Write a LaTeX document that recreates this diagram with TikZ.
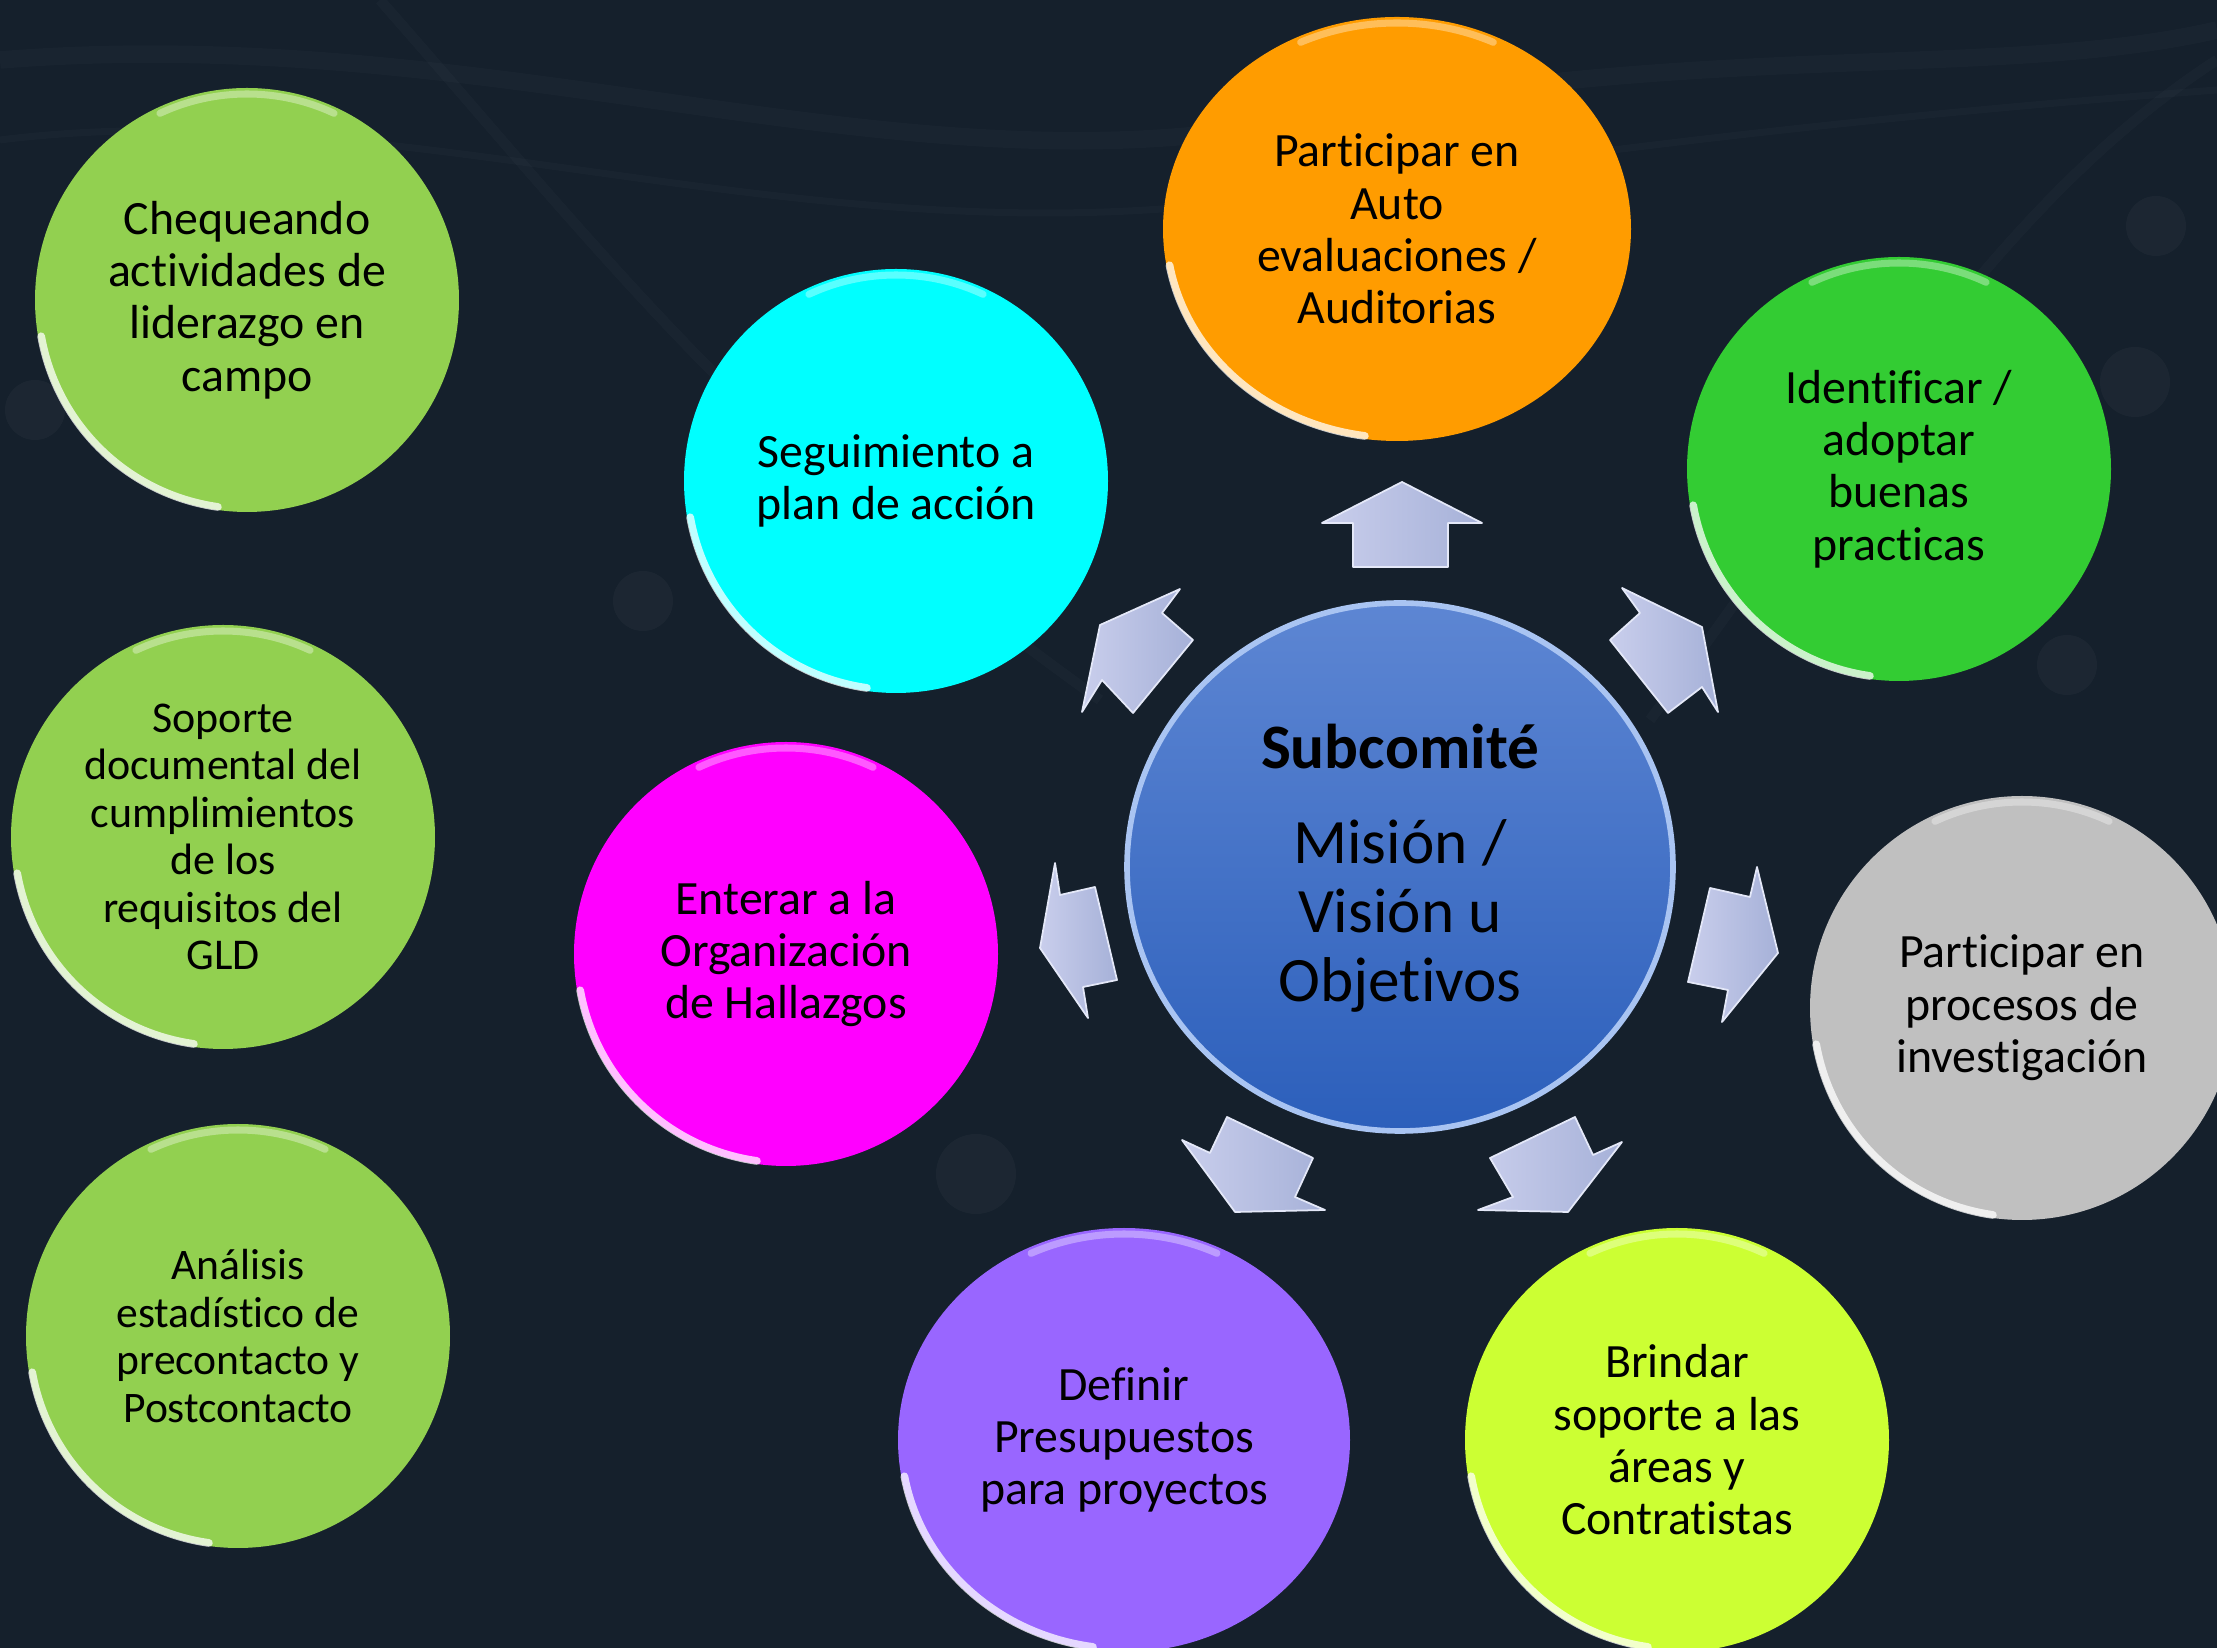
\documentclass[tikz,border=0pt]{standalone}
\usepackage{fontspec}
\setmainfont{Carlito}[Ligatures=NoCommon]
\usetikzlibrary{shapes.geometric,calc}
\definecolor{bgc}{HTML}{15202C}
\definecolor{lgreen}{HTML}{92D050}
\definecolor{cyanc}{HTML}{00FFFF}
\definecolor{orangec}{HTML}{FF9C00}
\definecolor{dgreen}{HTML}{33CC33}
\definecolor{magc}{HTML}{FF00FF}
\definecolor{grayc}{HTML}{C0C0C0}
\definecolor{purpc}{HTML}{9966FF}
\definecolor{limec}{HTML}{CCFF33}
\definecolor{blueT}{HTML}{5D86D3}
\definecolor{blueB}{HTML}{2C5FBB}
\definecolor{rimblue}{HTML}{A9C4F2}
\definecolor{arrL}{HTML}{C9CEEC}
\definecolor{arrR}{HTML}{A6B1D8}
\definecolor{arrE}{HTML}{E4E8F8}
\begin{document}
\begin{tikzpicture}[x=0.1mm,y=-0.1mm,
  bubble/.style={ellipse, inner sep=0pt, align=center, text=black,
    font=\fontsize{13.6}{14.9}\selectfont,
    minimum width=42.4mm, minimum height=42.4mm},
  arr/.style={left color=arrL, right color=arrR, draw=arrE, line width=0.5pt, line join=round},
  rimhl/.style={draw=white, opacity=0.75, line width=2.2pt, line cap=round},
  rimtop/.style={draw=white, opacity=0.35, line width=2pt, line cap=round},
  faint/.style={draw=white, opacity=0.018, line width=5pt},
  dot/.style={fill=white, opacity=0.03}]
\useasboundingbox (0,0) rectangle (2217,1648);
\clip (0,0) rectangle (2217,1648);
\fill[bgc] (0,0) rectangle (2217,1648);
% faint background texture
\draw[faint] (0,60) .. controls (500,20) and (900,200) .. (1300,120) .. controls (1700,40) and (2000,80) .. (2217,30);
\draw[faint, line width=2pt] (0,140) .. controls (400,90) and (800,260) .. (1250,200) .. controls (1650,140) and (1950,110) .. (2217,90);
\draw[faint, line width=3pt] (380,0) .. controls (600,250) and (750,450) .. (1100,700);
\draw[faint, line width=3pt] (2217,60) .. controls (2000,200) and (1850,450) .. (1650,720);
\fill[dot] (2156,226) circle (30);
\fill[dot] (2135,382) circle (35);
\fill[dot] (2067,665) circle (30);
\fill[dot] (643,601) circle (30);
\fill[dot] (976,1174) circle (40);
\fill[dot] (35,410) circle (30);
% bubbles
\node[bubble, fill=lgreen] (cheq) at (247,300) {Chequeando\\actividades de\\liderazgo en\\campo};
\node[bubble, fill=lgreen, font=\fontsize{12.5}{13.5}\selectfont] (sop) at (223,837) {Soporte\\documental del\\cumplimientos\\de los\\requisitos del\\GLD};
\node[bubble, fill=lgreen, font=\fontsize{12.4}{13.5}\selectfont] (anal) at (238,1336) {Análisis\\estadístico de\\precontacto y\\Postcontacto};
\node[bubble, fill=cyanc] (seg) at (896,481) {Seguimiento a\\plan de acción};
\node[bubble, fill=orangec, minimum width=46.8mm] (auto) at (1397,229) {Participar en\\Auto\\evaluaciones /\\Auditorias};
\node[bubble, fill=dgreen] (ident) at (1899,469) {Identificar /\\adoptar\\buenas\\practicas};
\node[bubble, fill=magc] (ent) at (786,954) {Enterar a la\\Organización\\de Hallazgos};
\node[bubble, fill=grayc] (proc) at (2022,1008) {Participar en\\procesos de\\investigación};
\node[bubble, fill=purpc, minimum width=45.2mm] (def) at (1124,1440) {Definir\\Presupuestos\\para proyectos};
\node[bubble, fill=limec] (brin) at (1677,1440) {Brindar\\soporte a las\\áreas y\\Contratistas};
% rim highlights
\foreach \n in {cheq,sop,anal,seg,ident,ent,proc,brin}{
  \draw[rimhl] ($(\n.center)+(190:20.9mm)$) arc[start angle=190, end angle=262, radius=20.9mm];
  \draw[rimtop] ($(\n.center)+(65:20.6mm)$) arc[start angle=65, end angle=115, radius=20.6mm];
}
\draw[rimhl] ($(auto.center)+(190:23.1mm and 20.9mm)$) arc[start angle=190, end angle=262, x radius=23.1mm, y radius=20.9mm];
\draw[rimtop] ($(auto.center)+(65:22.8mm and 20.6mm)$) arc[start angle=65, end angle=115, x radius=22.8mm, y radius=20.6mm];
\draw[rimhl] ($(def.center)+(190:22.3mm and 20.9mm)$) arc[start angle=190, end angle=262, x radius=22.3mm, y radius=20.9mm];
\draw[rimtop] ($(def.center)+(65:22.0mm and 20.6mm)$) arc[start angle=65, end angle=115, x radius=22.0mm, y radius=20.6mm];
% centre
\node[ellipse, inner sep=0pt, minimum width=54.6mm, minimum height=52.8mm,
  top color=blueT, bottom color=blueB, draw=rimblue, line width=1.6pt] (sub) at (1400,867) {};
\node[font=\bfseries\fontsize{18}{20}\selectfont, text=black] (subt) at (1400,747) {Subcomité};
\node[align=center, font=\fontsize{18}{19.6}\selectfont, text=black] (mis) at (1400,916) {Misión /\\Visión u\\Objetivos};
% arrows
\filldraw[arr] (1402,482) -- (1482,523) -- (1448,523) -- (1448,567) -- (1353,567) -- (1353,523) -- (1322,523) -- cycle;
\filldraw[arr] (1702,627) -- (1718,712) -- (1702,687) -- (1668,713) -- (1610,640) -- (1640,613) -- (1622,588) -- cycle;
\filldraw[arr] (1778,953) -- (1722,1022) -- (1728,990) -- (1688,982) -- (1710,888) -- (1750,897) -- (1757,867) -- cycle;
\filldraw[arr] (1568,1212) -- (1478,1210) -- (1513,1197) -- (1490,1158) -- (1575,1117) -- (1593,1155) -- (1622,1142) -- cycle;
\filldraw[arr] (1235,1212) -- (1182,1140) -- (1210,1153) -- (1227,1117) -- (1313,1158) -- (1295,1197) -- (1325,1210) -- cycle;
\filldraw[arr] (1040,948) -- (1055,863) -- (1060,895) -- (1095,887) -- (1117,980) -- (1083,987) -- (1088,1018) -- cycle;
\filldraw[arr] (1100,625) -- (1082,712) -- (1102,680) -- (1133,713) -- (1193,640) -- (1162,613) -- (1180,589) -- cycle;
\end{tikzpicture}
\end{document}
